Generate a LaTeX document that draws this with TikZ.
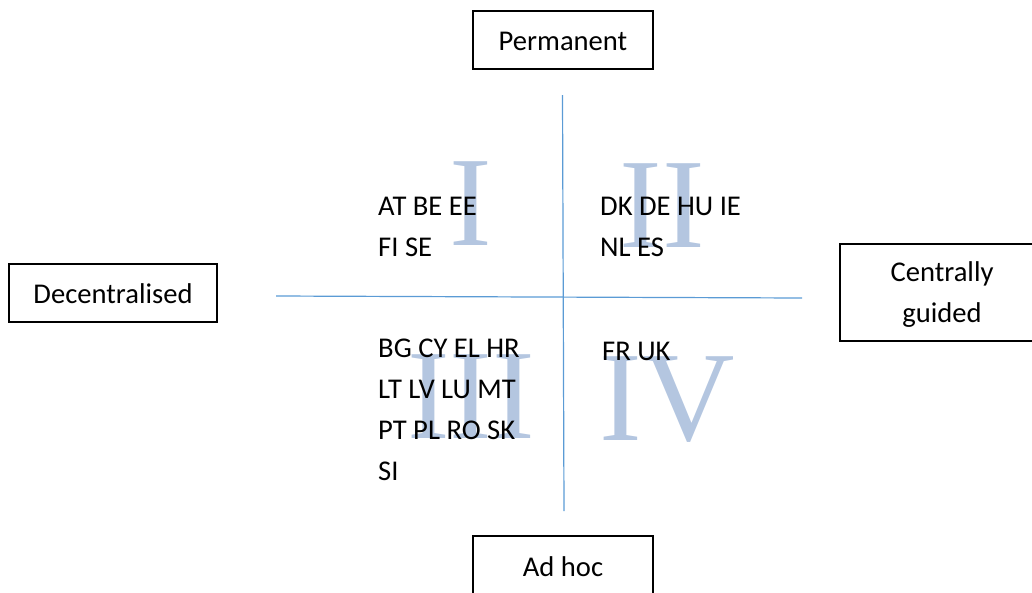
\documentclass[tikz,border=0pt]{standalone}
\usepackage{fontspec}
\setmainfont{Carlito}
\newfontfamily\numeralfont{Liberation Serif}
\definecolor{axisblue}{HTML}{5B9BD5}
\definecolor{numeralblue}{HTML}{B4C6E0}
\tikzset{
  labelbox/.style={draw=black, line width=1.3pt, inner sep=0pt,
    text height=20pt, text depth=0pt, font=\fontsize{28.6}{41}\selectfont},
  axis/.style={draw=axisblue, line width=1.2pt},
  numeral/.style={anchor=base, inner sep=0pt, text=numeralblue,
    font=\numeralfont\fontsize{128}{128}\selectfont},
  members/.style={anchor=base west, inner sep=0pt,
    font=\fontsize{28.6}{41}\selectfont}
}
\newcommand{\memberlist}[1]{\begin{tabular}[t]{@{}l@{}}#1\end{tabular}}
\begin{document}
\begin{tikzpicture}[x=1pt,y=-1pt]
  \useasboundingbox (0,0) rectangle (1032,592);

  % axis end points
  \coordinate (vtop) at (562.5,95);
  \coordinate (vbot) at (564,511);
  \coordinate (hleft) at (276,296);
  \coordinate (hright) at (802,298);

  % quadrant numerals, drawn beneath the country codes
  \node[numeral] (nI)   at (471,245) {I};
  \node[numeral] (nII)  at (662,247) {II};
  \node[numeral] (nIII) at (471,438) {III};
  \node[numeral] (nIV)  at (667,440) {IV};

  % axes
  \draw[axis] (vtop) -- (vbot);
  \draw[axis] (hleft) -- (hright);

  % axis end labels
  \node[labelbox, minimum width=180pt, minimum height=58pt] (perm) at (563,40) {Permanent};
  \node[labelbox, minimum width=208pt, minimum height=58pt] (dec) at (113,293) {Decentralised};
  \node[labelbox, minimum width=204pt, minimum height=97pt, align=center,
        text height=59pt, text depth=0pt] (cg) at (942,292.5) {Centrally\\guided};
  \node[labelbox, minimum width=180pt, minimum height=60pt] (adhoc) at (563,566) {Ad hoc};

  % country codes per quadrant
  \node[members] (q1) at (378,215) {\memberlist{AT BE EE\\FI SE}};
  \node[members] (q2) at (600,215) {\memberlist{DK DE HU IE\\NL ES}};
  \node[members] (q3) at (378,357) {\memberlist{BG CY EL HR\\LT LV LU MT\\PT PL RO SK\\SI}};
  \node[members] (q4) at (602,360) {\memberlist{FR UK}};
\end{tikzpicture}
\end{document}
